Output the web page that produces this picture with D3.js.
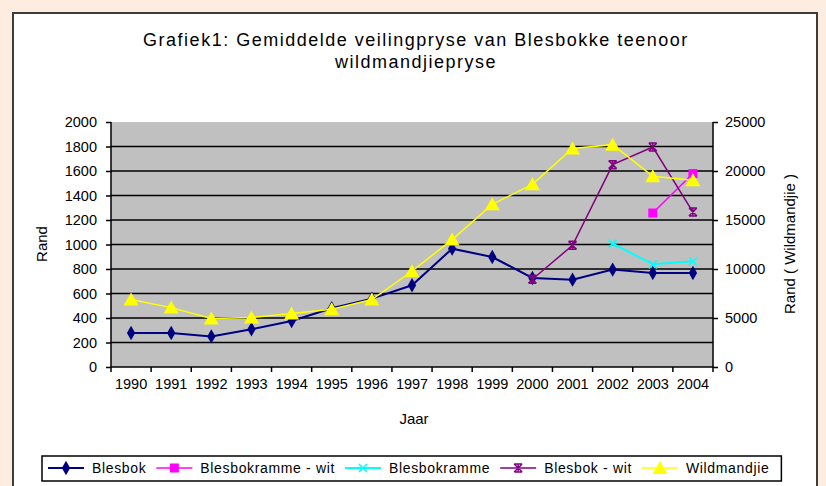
<!DOCTYPE html>
<html>
<head>
  <title>Grafiek 1</title>
  <script src="https://d3js.org/d3.v7.min.js"></script>
  <style>
    body { margin: 0; background: #fcede0; }
    text { font-family: "Liberation Sans", Arial, sans-serif; fill: #000; }
  </style>
</head>
<body>
  <div id="chart"></div>

  <script>
    // Data
    const years = ['1990', '1991', '1992', '1993', '1994', '1995', '1996', '1997',
                   '1998', '1999', '2000', '2001', '2002', '2003', '2004'];
    const blesbok = [277, 277, 250, 308, 375, 480, 558, 667, 966, 898, 727, 713, 795, 768, 768];
    const blesbokrammeWit = [null, null, null, null, null, null, null, null, null, null, null, null, null, 1257, 1579];
    const blesbokramme = [null, null, null, null, null, null, null, null, null, null, null, null, 1007, 838, 863];
    const blesbokWit = [null, null, null, null, null, null, null, null, null, null, 716, 993, 1652, 1796, 1265];
    const wildmandjie = [6880, 6060, 4940, 5040, 5450, 5890, 6880, 9770, 13000, 16600, 18640, 22290, 22690, 19460, 19050];
    const leftTicks = [0, 200, 400, 600, 800, 1000, 1200, 1400, 1600, 1800, 2000];
    const rightTicks = [0, 5000, 10000, 15000, 20000, 25000];

    const width = 826;
    const height = 486;
    const plot = { left: 111, right: 713, top: 122, bottom: 367 };

    const svg = d3.select('#chart')
      .append('svg')
      .attr('width', width)
      .attr('height', height);

    // white chart box
    svg.append('rect')
      .attr('x', 13).attr('y', 13)
      .attr('width', 804).attr('height', 490)
      .attr('fill', '#fff')
      .attr('stroke', '#3c3c3c')
      .attr('stroke-width', 2);

    // Scales
    const x = d3.scaleBand().domain(years).range([plot.left, plot.right]);
    const yLeft = d3.scaleLinear().domain([0, 2000]).range([plot.bottom, plot.top]);
    const yRight = d3.scaleLinear().domain([0, 25000]).range([plot.bottom, plot.top]);
    const cx = d => x(d) + x.bandwidth() / 2;

    // plot background
    svg.append('rect')
      .attr('x', plot.left).attr('y', plot.top)
      .attr('width', plot.right - plot.left).attr('height', plot.bottom - plot.top)
      .attr('fill', '#c0c0c0');

    // gridlines
    svg.append('g')
      .selectAll('line')
      .data(leftTicks.slice(1, -1))
      .enter().append('line')
      .attr('x1', plot.left).attr('x2', plot.right)
      .attr('y1', d => yLeft(d)).attr('y2', d => yLeft(d))
      .attr('stroke', '#000')
      .attr('stroke-width', 1.6);

    // Axes
    const leftAxis = svg.append('g')
      .attr('transform', `translate(${plot.left},0)`)
      .call(d3.axisLeft(yLeft).tickValues(leftTicks).tickSize(5).tickPadding(9).tickFormat(d3.format('d')));

    const rightAxis = svg.append('g')
      .attr('transform', `translate(${plot.right},0)`)
      .call(d3.axisRight(yRight).tickValues(rightTicks).tickSize(5).tickPadding(7).tickFormat(d3.format('d')));

    const bottomAxis = svg.append('g')
      .attr('transform', `translate(0,${plot.bottom})`)
      .call(d3.axisBottom(x).tickSize(0).tickPadding(12));

    // category boundary ticks
    svg.append('g')
      .selectAll('line')
      .data(years.concat(['end']))
      .enter().append('line')
      .attr('x1', (d, i) => i < years.length ? x(d) : plot.right)
      .attr('x2', (d, i) => i < years.length ? x(d) : plot.right)
      .attr('y1', plot.bottom).attr('y2', plot.bottom + 5)
      .attr('stroke', '#000').attr('stroke-width', 1.5);

    [leftAxis, rightAxis, bottomAxis].forEach(g => {
      g.selectAll('path.domain').attr('stroke', '#000').attr('stroke-width', 1.5);
      g.selectAll('.tick line').attr('stroke', '#000').attr('stroke-width', 1.5);
      g.selectAll('text')
        .style('font-family', '"Liberation Sans", Arial, sans-serif')
        .style('font-size', '14.5px')
        .attr('fill', '#000');
    });
    leftAxis.select('path.domain').attr('d', `M0,${plot.bottom}V${plot.top}`);
    rightAxis.select('path.domain').attr('d', `M0,${plot.bottom}V${plot.top}`);
    bottomAxis.select('path.domain').attr('d', `M${plot.left},0H${plot.right}`);

    // Series
    const series = [
      { name: 'Blesbok', values: blesbok, scale: yLeft, color: '#000080', marker: 'diamond', lw: 2 },
      { name: 'Blesbokramme - wit', values: blesbokrammeWit, scale: yLeft, color: '#ff00ff', marker: 'square', lw: 1.5 },
      { name: 'Blesbokramme', values: blesbokramme, scale: yLeft, color: '#00ffff', marker: 'x', lw: 2 },
      { name: 'Blesbok - wit', values: blesbokWit, scale: yLeft, color: '#800080', marker: 'star', lw: 1.5 },
      { name: 'Wildmandjie', values: wildmandjie, scale: yRight, color: '#ffff00', marker: 'triangle', lw: 1.5 }
    ];

    function drawMarker(g, type, color) {
      if (type === 'diamond') {
        g.append('path').attr('d', d3.symbol(d3.symbolDiamond, 60)()).attr('fill', color);
      } else if (type === 'square') {
        g.append('rect').attr('x', -4.5).attr('y', -4.5).attr('width', 9).attr('height', 9).attr('fill', color);
      } else if (type === 'triangle') {
        g.append('path').attr('d', 'M0,-7L7.5,6H-7.5Z').attr('fill', color);
      } else if (type === 'x') {
        g.append('path').attr('d', 'M-4,-4L4,4M-4,4L4,-4').attr('stroke', color).attr('stroke-width', 1.5);
      } else if (type === 'star') {
        g.append('path').attr('d', 'M-4,-4L4,4M-4,4L4,-4M0,-4V4M-4,-4H4M-4,4H4').attr('stroke', color).attr('stroke-width', 1.5);
      }
    }

    series.forEach(s => {
      const pts = years.map((yr, i) => ({ yr, v: s.values[i] })).filter(d => d.v != null);
      const line = d3.line().x(d => cx(d.yr)).y(d => s.scale(d.v));
      svg.append('path')
        .datum(pts)
        .attr('d', line)
        .attr('fill', 'none')
        .attr('stroke', s.color)
        .attr('stroke-width', s.lw);
      pts.forEach(d => {
        const g = svg.append('g').attr('transform', `translate(${cx(d.yr)},${s.scale(d.v)})`);
        drawMarker(g, s.marker, s.color);
      });
    });

    // Title
    svg.append('text')
      .attr('x', 416).attr('y', 46)
      .attr('text-anchor', 'middle')
      .style('font-size', '18px')
      .style('letter-spacing', '1.5px')
      .text('Grafiek1: Gemiddelde veilingpryse van Blesbokke teenoor');
    svg.append('text')
      .attr('x', 416).attr('y', 68)
      .attr('text-anchor', 'middle')
      .style('font-size', '18px')
      .style('letter-spacing', '1.5px')
      .text('wildmandjiepryse');

    // Axis titles
    svg.append('text')
      .attr('transform', 'translate(47,244) rotate(-90)')
      .attr('text-anchor', 'middle')
      .style('font-size', '15px')
      .text('Rand');
    svg.append('text')
      .attr('transform', 'translate(795,244) rotate(-90)')
      .attr('text-anchor', 'middle')
      .style('font-size', '15px')
      .text('Rand ( Wildmandjie )');
    svg.append('text')
      .attr('x', 414).attr('y', 424)
      .attr('text-anchor', 'middle')
      .style('font-size', '15px')
      .text('Jaar');

    // Legend
    const legend = svg.append('g');
    const legendY = 468;
    let lx = 48;
    series.forEach(s => {
      legend.append('line')
        .attr('x1', lx).attr('x2', lx + 36)
        .attr('y1', legendY).attr('y2', legendY)
        .attr('stroke', s.color).attr('stroke-width', s.lw);
      drawMarker(legend.append('g').attr('transform', `translate(${lx + 18},${legendY})`), s.marker, s.color);
      const t = legend.append('text')
        .attr('x', lx + 44).attr('y', legendY + 5)
        .style('font-size', '14px')
        .style('letter-spacing', '0.65px')
        .text(s.name);
      lx += 44 + t.node().getComputedTextLength() + 10;
    });
    legend.insert('rect', ':first-child')
      .attr('x', 42).attr('y', 456)
      .attr('width', lx - 42 + 2).attr('height', 25)
      .attr('fill', '#fff')
      .attr('stroke', '#000')
      .attr('stroke-width', 1.5);
  </script>
</body>
</html>
